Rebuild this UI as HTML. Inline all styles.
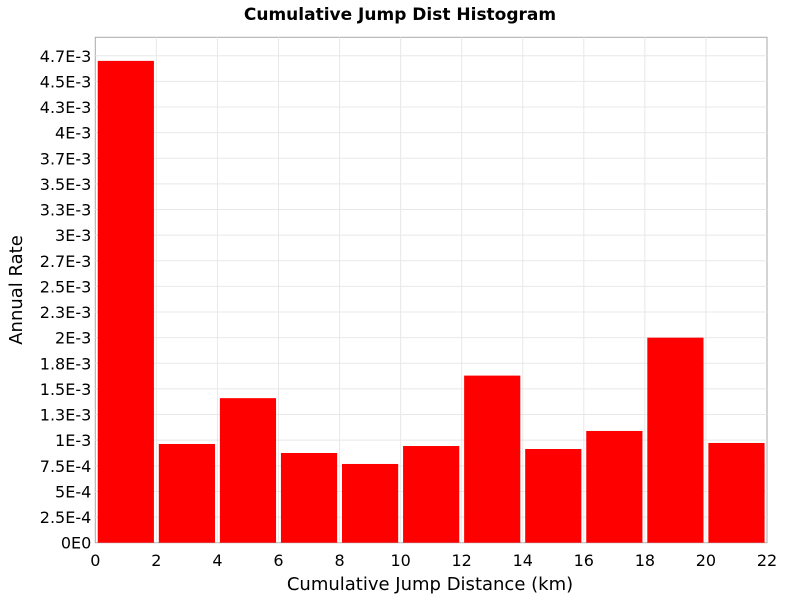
<!DOCTYPE html>
<html><head><meta charset="utf-8"><style>
body{margin:0;background:#fff;font-family:"DejaVu Sans","Liberation Sans",sans-serif}
</style></head><body>
<svg id="chart" width="800" height="600" xmlns="http://www.w3.org/2000/svg">
<text x="400" y="20" text-anchor="middle" font-weight="bold" font-size="17">Cumulative Jump Dist Histogram</text>
<rect x="95.3" y="37.3" width="671.7" height="505.4" fill="#fff" stroke="#aaa"/>
<g id="grid"></g><g id="bars"></g><g id="yt"></g><g id="xt"></g>
<text x="430" y="590" text-anchor="middle" font-size="18">Cumulative Jump Distance (km)</text>
<text transform="translate(22,290) rotate(-90)" text-anchor="middle" font-size="18">Annual Rate</text>
</svg>
<script>
const binStarts=[0,2,4,6,8,10,12,14,16,18,20];
const rates=[4.70e-3,0.963e-3,1.41e-3,0.875e-3,0.768e-3,0.943e-3,1.63e-3,0.914e-3,1.09e-3,2.0e-3,0.973e-3];
const yTickVals=[0,2.5e-4,5e-4,7.5e-4,1e-3,1.25e-3,1.5e-3,1.75e-3,2e-3,2.25e-3,2.5e-3,2.75e-3,3e-3,3.25e-3,3.5e-3,3.75e-3,4e-3,4.25e-3,4.5e-3,4.75e-3];
const yTickLabels=["0E0","2.5E-4","5E-4","7.5E-4","1E-3","1.3E-3","1.5E-3","1.8E-3","2E-3","2.3E-3","2.5E-3","2.7E-3","3E-3","3.3E-3","3.5E-3","3.7E-3","4E-3","4.3E-3","4.5E-3","4.7E-3"];
const xTickVals=[0,2,4,6,8,10,12,14,16,18,20,22];
const binWidth=2;
const NS="http://www.w3.org/2000/svg";
const X0=95.3,X1=767,Y0=542.7,Y1=37.3,xMax=22,yMax=4.93e-3;
const xs=v=>X0+(X1-X0)*v/xMax, ys=v=>Y0-(Y0-Y1)*v/yMax;
function mk(t,a,p){const e=document.createElementNS(NS,t);for(const k in a)e.setAttribute(k,a[k]);p.appendChild(e);return e;}
const g=document.getElementById('grid'),b=document.getElementById('bars'),yt=document.getElementById('yt'),xt=document.getElementById('xt');
yTickVals.forEach((v,i)=>{const y=ys(v);
 if(i>0){const l=mk('line',{x1:X0,x2:X1,y1:y,y2:y,stroke:'#e8e8e8'},g);
 
 }
 const t=mk('text',{x:X0-4,y:y+6,'text-anchor':'end','font-size':'16'},yt);t.textContent=yTickLabels[i];
 
 
});
xTickVals.forEach(v=>{const x=xs(v);
 if(v>0&&v<xMax){const l=mk('line',{x1:x,x2:x,y1:Y1,y2:Y0,stroke:'#e8e8e8'},g);
 
 }
 const t=mk('text',{x:x,y:566,'text-anchor':'middle','font-size':'16'},xt);t.textContent=v;
 
 
});
binStarts.forEach((s,i)=>{const xa=xs(s+0.08),xb=xs(s+binWidth-0.08);
 const r=mk('rect',{x:xa,y:ys(rates[i]),width:xb-xa,height:Y0-ys(rates[i]),fill:'#ff0000'},b);
 
 
});
</script>
</body></html>
